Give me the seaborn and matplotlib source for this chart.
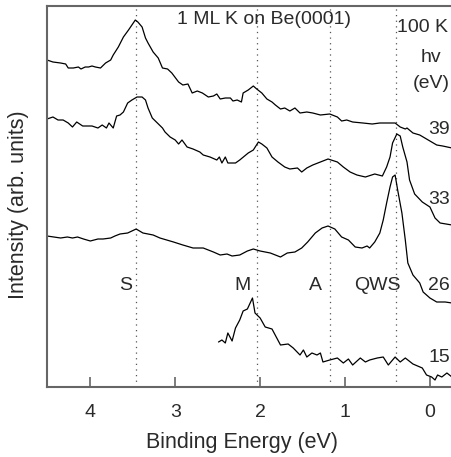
import matplotlib
matplotlib.use("Agg")
import matplotlib.pyplot as plt
import seaborn as sns
import pandas as pd
import numpy as np

# photon energies (eV) of the spectra, top to bottom, and their vertical offsets
photon_energies = ["39", "33", "26", "15"]
offsets = [2.33, 1.50, 0.70, 0.00]

# (binding energy eV, intensity arb. units)
s39 = [(4.51,0.97),(4.44,0.95),(4.35,0.94),(4.29,0.93),(4.26,0.89),(4.20,0.89),(4.14,0.90),(4.11,0.88),
       (4.06,0.90),(4.02,0.90),(3.98,0.91),(3.94,0.90),(3.88,0.89),(3.82,0.94),(3.76,0.97),(3.73,1.02),
       (3.67,1.10),(3.61,1.20),(3.55,1.27),(3.47,1.37),(3.44,1.35),(3.39,1.30),(3.35,1.19),(3.32,1.14),
       (3.26,1.05),(3.20,0.99),(3.15,0.89),(3.09,0.88),(3.04,0.84),(2.96,0.75),(2.91,0.72),(2.85,0.73),
       (2.80,0.64),(2.74,0.66),(2.68,0.64),(2.61,0.60),(2.55,0.61),(2.51,0.63),(2.47,0.58),(2.41,0.59),
       (2.35,0.59),(2.32,0.56),(2.27,0.57),(2.22,0.55),(2.20,0.64),(2.14,0.67),(2.08,0.71),(2.04,0.68),
       (1.98,0.64),(1.92,0.58),(1.86,0.55),(1.82,0.52),(1.76,0.48),(1.71,0.49),(1.65,0.46),(1.59,0.49),
       (1.53,0.44),(1.45,0.45),(1.38,0.44),(1.29,0.42),(1.18,0.43),(1.09,0.40),(1.04,0.36),(0.98,0.37),
       (0.91,0.35),(0.79,0.34),(0.68,0.33),(0.59,0.34),(0.41,0.34),(0.35,0.30),(0.29,0.28),(0.27,0.29),
       (0.20,0.24),(0.12,0.22),(0.02,0.17),(-0.08,0.12),(-0.15,0.11),(-0.26,0.09)]

s33 = [(4.51,1.21),(4.44,1.23),(4.38,1.20),(4.32,1.20),(4.26,1.17),(4.21,1.13),(4.16,1.18),(4.09,1.14),
       (4.04,1.14),(3.98,1.14),(3.91,1.12),(3.86,1.15),(3.81,1.12),(3.78,1.17),(3.73,1.12),(3.69,1.24),
       (3.65,1.25),(3.61,1.28),(3.56,1.37),(3.51,1.40),(3.45,1.43),(3.39,1.43),(3.35,1.40),(3.32,1.32),
       (3.27,1.22),(3.21,1.17),(3.15,1.12),(3.12,1.08),(3.06,1.03),(3.00,1.00),(2.96,0.96),(2.92,1.00),
       (2.86,0.93),(2.79,0.91),(2.71,0.88),(2.67,0.85),(2.59,0.83),(2.51,0.80),(2.48,0.83),(2.45,0.77),
       (2.41,0.83),(2.38,0.77),(2.29,0.77),(2.24,0.80),(2.14,0.87),(2.08,0.90),(2.02,0.98),(1.98,0.96),
       (1.92,0.92),(1.86,0.83),(1.79,0.78),(1.71,0.73),(1.65,0.71),(1.56,0.72),(1.51,0.68),(1.45,0.72),
       (1.38,0.75),(1.29,0.78),(1.20,0.81),(1.09,0.78),(1.02,0.73),(0.94,0.68),(0.86,0.65),(0.76,0.63),
       (0.65,0.66),(0.56,0.64),(0.51,0.73),(0.47,0.83),(0.44,0.97),(0.39,1.06),(0.35,1.04),(0.32,0.93),
       (0.27,0.78),(0.24,0.60),(0.18,0.46),(0.09,0.38),(0.00,0.33),(-0.06,0.22),(-0.12,0.17),(-0.26,0.15)]

s26 = [(4.51,0.84),(4.35,0.82),(4.27,0.83),(4.21,0.82),(4.15,0.83),(4.08,0.81),(4.00,0.79),(3.91,0.81),
       (3.85,0.81),(3.76,0.82),(3.71,0.84),(3.65,0.86),(3.56,0.87),(3.46,0.91),(3.38,0.87),(3.26,0.85),
       (3.18,0.82),(3.02,0.78),(2.91,0.75),(2.79,0.72),(2.67,0.72),(2.55,0.68),(2.47,0.65),(2.39,0.66),
       (2.33,0.64),(2.24,0.65),(2.15,0.69),(2.08,0.71),(2.00,0.69),(1.88,0.67),(1.76,0.63),(1.68,0.67),
       (1.59,0.68),(1.51,0.72),(1.44,0.78),(1.35,0.87),(1.27,0.92),(1.20,0.94),(1.12,0.91),(1.04,0.83),
       (0.96,0.80),(0.88,0.73),(0.80,0.72),(0.74,0.74),(0.71,0.72),(0.65,0.78),(0.59,0.87),(0.55,1.00),
       (0.51,1.17),(0.47,1.33),(0.44,1.43),(0.41,1.45),(0.38,1.30),(0.33,1.07),(0.29,0.80),(0.26,0.57),
       (0.20,0.45),(0.12,0.37),(0.08,0.28),(0.00,0.22),(-0.08,0.18),(-0.18,0.18),(-0.26,0.17)]

s15 = [(2.49,0.48),(2.45,0.50),(2.41,0.47),(2.38,0.57),(2.33,0.49),(2.29,0.62),(2.24,0.70),(2.20,0.79),
       (2.15,0.81),(2.09,0.92),(2.06,0.77),(2.00,0.72),(1.94,0.63),(1.86,0.61),(1.76,0.45),(1.67,0.46),
       (1.61,0.42),(1.53,0.35),(1.49,0.40),(1.45,0.33),(1.39,0.37),(1.33,0.35),(1.29,0.37),(1.26,0.28),
       (1.18,0.30),(1.09,0.32),(1.02,0.27),(0.96,0.31),(0.91,0.25),(0.82,0.32),(0.76,0.28),(0.71,0.30),
       (0.62,0.32),(0.55,0.33),(0.49,0.25),(0.41,0.33),(0.35,0.28),(0.29,0.32),(0.20,0.26),(0.09,0.22),
       (0.04,0.15),(-0.02,0.13),(-0.06,0.10),(-0.09,0.15),(-0.14,0.13),(-0.20,0.17),(-0.26,0.13)]

spectra = [s39, s33, s26, s15]

feature_names = ["S", "M", "A", "QWS"]
feature_energies = [3.46, 2.04, 1.18, 0.40]
x_ticks = [4, 3, 2, 1, 0]

sns.set_theme(style="white")
plt.rcParams['font.family'] = ['Liberation Sans', 'DejaVu Sans']

TXT = "#2a2a2a"
FS = 14
fig = plt.figure(figsize=(4.52, 4.57), dpi=100)
ax = fig.add_axes([47/452, 1 - 387/457, 1 - 47/452, (387 - 6)/457])

frames = []
for name, off, s in zip(photon_energies, offsets, spectra):
    e, i = zip(*s)
    frames.append(pd.DataFrame({"E": e, "I": np.array(i) + off, "hv": name}))
df = pd.concat(frames, ignore_index=True)

sns.lineplot(data=df, x="E", y="I", hue="hv", palette=["black"] * 4,
             sort=False, estimator=None, legend=False, lw=0.9, ax=ax)

for e in feature_energies:
    ax.axvline(e, color="#555555", ls=(0, (1, 3.5)), lw=0.9, zorder=0)

ax.set_xlim(4.51, -0.26)
ax.set_ylim(0.03, 3.84)
ax.set_xticks(x_ticks)
ax.set_xticklabels([str(t) for t in x_ticks])
ax.set_yticks([])
ax.tick_params(axis='x', direction='in', length=7, width=1.2, color="#666666",
               labelsize=FS, labelcolor=TXT, pad=12, top=False, bottom=True)
for side in ["left", "bottom", "top"]:
    ax.spines[side].set_color("#666666")
    ax.spines[side].set_linewidth(1.5)
ax.spines["right"].set_visible(False)

ax.set_xlabel("Binding Energy (eV)", fontsize=15.5, color=TXT)
ax.set_ylabel("Intensity (arb. units)", fontsize=15.5, color=TXT)
ax.xaxis.set_label_coords(0.482, -0.117)
ax.yaxis.set_label_coords(-0.044, 0.478)

# spectrum labels
label_y = [2.60, 1.90, 1.05, 0.33]
for name, y in zip(photon_energies, label_y):
    ax.text(-0.11, y, name, fontsize=FS, color=TXT, ha="center", va="center")

# feature labels
feature_label_x = [3.58, 2.21, 1.35, 0.62]
for name, x in zip(feature_names, feature_label_x):
    ax.text(x, 1.05, name, fontsize=FS, color=TXT, ha="center", va="center")

ax.text(1.95, 3.70, "1 ML K on Be(0001)", fontsize=FS, color=TXT, ha="center", va="center")
ax.text(0.09, 3.63, "100 K", fontsize=FS, color=TXT, ha="center", va="center")
ax.text(-0.01, 3.33, "hv", fontsize=FS, color=TXT, ha="center", va="center")
ax.text(-0.02, 3.06, "(eV)", fontsize=FS, color=TXT, ha="center", va="center")

fig.savefig("out.png", dpi=100)
